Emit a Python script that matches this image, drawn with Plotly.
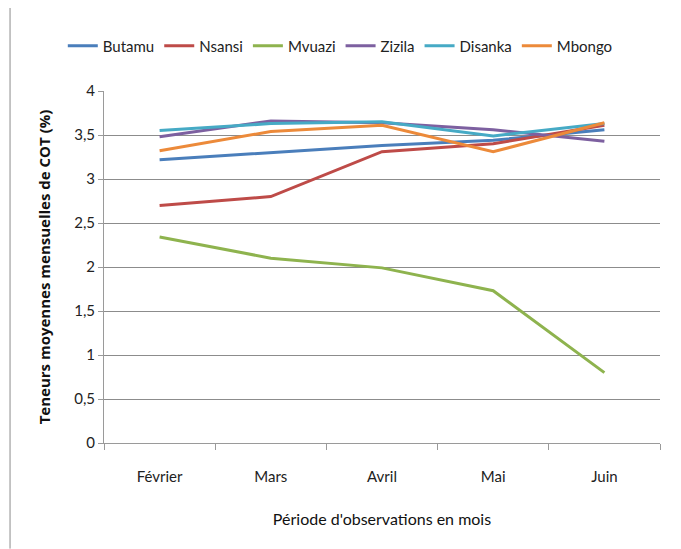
import plotly.graph_objects as go

months = ["Février", "Mars", "Avril", "Mai", "Juin"]
butamu = [3.22, 3.30, 3.38, 3.44, 3.56]
nsansi = [2.70, 2.80, 3.31, 3.40, 3.61]
mvuazi = [2.34, 2.10, 1.99, 1.73, 0.80]
zizila = [3.48, 3.66, 3.64, 3.56, 3.43]
disanka = [3.55, 3.63, 3.65, 3.49, 3.63]
mbongo = [3.32, 3.54, 3.61, 3.31, 3.64]

y_ticks = [0, 0.5, 1, 1.5, 2, 2.5, 3, 3.5, 4]
y_tick_labels = ["0", "0,5", "1", "1,5", "2", "2,5", "3", "3,5", "4"]

series = [
    ("Butamu", butamu, "#4A7EBB"),
    ("Nsansi", nsansi, "#BE4B48"),
    ("Mvuazi", mvuazi, "#8EB34E"),
    ("Zizila", zizila, "#7D60A0"),
    ("Disanka", disanka, "#46AAC5"),
    ("Mbongo", mbongo, "#EC8A3A"),
]

FONT = "Lato, Liberation Sans, sans-serif"

fig = go.Figure()
for name, vals, col in series:
    fig.add_trace(go.Scatter(x=months, y=vals, name=name, mode="lines",
                             line=dict(color=col, width=3)))

fig.update_layout(
    width=673, height=541,
    margin=dict(l=96, r=21, t=83, b=106, autoexpand=False),
    paper_bgcolor="white", plot_bgcolor="white",
    font=dict(family=FONT, size=15, color="#222"),
    showlegend=True,
    legend=dict(orientation="h", x=0.425, xanchor="center", y=1.128, yanchor="middle",
                font=dict(size=15), itemwidth=30, tracegroupgap=0,
                bgcolor="rgba(0,0,0,0)"),
    xaxis=dict(type="category", tickson="boundaries", ticks="outside", ticklen=6,
               tickcolor="#9a9a9a", showline=True, linecolor="#9a9a9a", linewidth=1,
               showgrid=False, range=[-0.5, 4.5], ticklabelstandoff=20,
               tickfont=dict(size=15, family=FONT, color="#222"),
               title=dict(text="Période d'observations en mois", standoff=29,
                          font=dict(size=16, family=FONT, color="#111"))),
    yaxis=dict(range=[0, 4], tickvals=y_ticks, ticktext=y_tick_labels,
               ticks="outside", ticklen=5, tickcolor="#9a9a9a",
               showline=True, linecolor="#9a9a9a", linewidth=1,
               showgrid=True, gridcolor="#8c8c8c", gridwidth=1, zeroline=False,
               tickfont=dict(size=15, family=FONT, color="#222"),
               title=dict(text="<b>Teneurs moyennes mensuelles de COT (%)</b>", standoff=19,
                          font=dict(size=15, family="Open Sans, DejaVu Sans, sans-serif", color="#111"))),
)

fig.add_shape(type="line", xref="paper", yref="paper", x0=-0.169, x1=-0.169, y0=-0.3, y1=1.26,
              line=dict(color="#8c8c8c", width=1))

fig.write_html("out.html")
